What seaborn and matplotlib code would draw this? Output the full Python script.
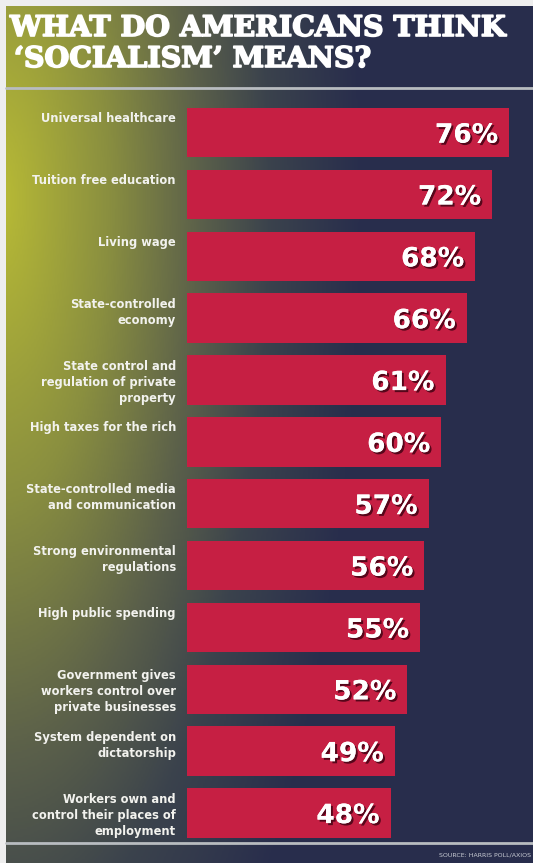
import numpy as np
import pandas as pd
import matplotlib
matplotlib.use("Agg")
import matplotlib.pyplot as plt
import matplotlib.patheffects as pe
from matplotlib.colors import LinearSegmentedColormap
import seaborn as sns

# data
categories = [
    "Universal healthcare",
    "Tuition free education",
    "Living wage",
    "State-controlled\neconomy",
    "State control and\nregulation of private\nproperty",
    "High taxes for the rich",
    "State-controlled media\nand communication",
    "Strong environmental\nregulations",
    "High public spending",
    "Government gives\nworkers control over\nprivate businesses",
    "System dependent on\ndictatorship",
    "Workers own and\ncontrol their places of\nemployment",
]
values = [76, 72, 68, 66, 61, 60, 57, 56, 55, 52, 49, 48]
title_lines = ["WHAT DO AMERICANS THINK", "\u2018SOCIALISM\u2019 MEANS?"]
source_text = "SOURCE: HARRIS POLL/AXIOS"

W, H = 533, 863
BAR_COLOR = "#c61f43"

sns.set_theme(style="white")
plt.rcParams["font.family"] = ["DejaVu Sans"]

fig = plt.figure(figsize=(W / 100, H / 100), dpi=100)
fig.patch.set_facecolor("#eeeeee")

# background panel with gradient (pixel coordinates)
bg = fig.add_axes([0, 0, 1, 1])
bg.set_xlim(0, W)
bg.set_ylim(H, 0)
bg.axis("off")
xx, yy = np.meshgrid(np.linspace(6, W, 300), np.linspace(7, H, 500))
t = np.sqrt((xx / 360.0) ** 2 + ((yy - 200) / 1000.0) ** 2)
t = np.clip(t, 0, 1)
cmap = LinearSegmentedColormap.from_list(
    "bg", [(0.0, (0.72, 0.73, 0.21)), (0.3, (0.54, 0.56, 0.25)),
           (0.55, (0.36, 0.38, 0.29)), (0.75, (0.23, 0.26, 0.30)),
           (1.0, (0.16, 0.18, 0.30))])
bg.imshow(t, cmap=cmap, extent=(6, W, H, 7), aspect="auto", vmin=0, vmax=1, zorder=0)
bg.plot([6, W], [88, 88], color="#b8bcc0", lw=2, zorder=1)
bg.plot([6, W], [843, 843], color="#b8bcc0", lw=2, zorder=1)

title_fx = [pe.withStroke(linewidth=1.2, foreground="white")]
bg.text(10, 15, title_lines[0], color="white", fontsize=20.5, fontweight="bold",
        family="DejaVu Serif", va="top", ha="left", path_effects=title_fx)
bg.text(14, 46, title_lines[1], color="white", fontsize=20.5, fontweight="bold",
        family="DejaVu Serif", va="top", ha="left", path_effects=title_fx)
bg.text(W - 2, 855, source_text, color="#c8ccd4", fontsize=4.5,
        va="center", ha="right")

# bar chart
df = pd.DataFrame({"category": categories, "value": values})
ax = fig.add_axes([187 / W, 1 - 843.9 / H, 1 - 187 / W, (843.9 - 101.6) / H])
ax.patch.set_alpha(0)
sns.barplot(data=df, x="value", y="category", orient="h", color=BAR_COLOR,
            saturation=1, width=0.8, linewidth=0, edgecolor="none", ax=ax)
ax.set_xlim(0, (W - 187) / 4.24)
ax.set_ylim(11.5, -0.5)
ax.axis("off")

shadow = [pe.withSimplePatchShadow(offset=(1.5, -1.5), shadow_rgbFace="#3a0010", alpha=0.8),
          pe.Normal()]
for i, (cat, v) in enumerate(zip(categories, values)):
    ax.text(-2.6, i - 0.33, cat, color="#f2f2ee", fontsize=8.3, fontweight="bold",
            ha="right", va="top", linespacing=1.3, clip_on=False)
    ax.text(v - 2.6, i + 0.05, f"{v}%", color="white", fontsize=19, fontweight="bold",
            ha="right", va="center", path_effects=shadow)

fig.savefig("out.png", dpi=100, facecolor=fig.get_facecolor())
